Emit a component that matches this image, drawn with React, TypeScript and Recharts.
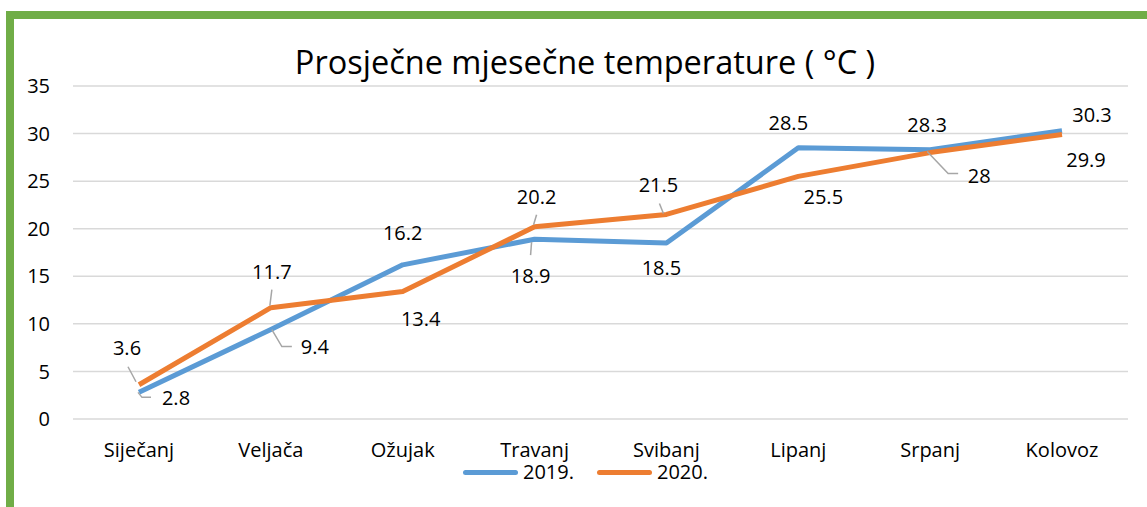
import { LineChart, Line, XAxis, YAxis, CartesianGrid, LabelList } from "recharts";

const months = ["Siječanj", "Veljača", "Ožujak", "Travanj", "Svibanj", "Lipanj", "Srpanj", "Kolovoz"];
const temps2019 = [2.8, 9.4, 16.2, 18.9, 18.5, 28.5, 28.3, 30.3];
const temps2020 = [3.6, 11.7, 13.4, 20.2, 21.5, 25.5, 28, 29.9];
const yTicks = [0, 5, 10, 15, 20, 25, 30, 35];

const BLUE = "#5B9BD5";
const ORANGE = "#ED7D31";
const FONT = "'Open Sans', sans-serif";

const data = months.map((m, i) => ({ month: m, y2019: temps2019[i], y2020: temps2020[i] }));

// label placement relative to the point (Excel moved some of them by hand)
type Place = { dx: number; dy: number; leader?: number[][] };
const place2019: Place[] = [
  { dx: 37, dy: 6, leader: [[-1, 0], [3, 5], [12, 5]] },
  { dx: 44, dy: 17, leader: [[1, 0], [11, 17], [21, 17]] },
  { dx: 0, dy: -32 },
  { dx: -4, dy: 37, leader: [[-3, 3], [-4, 16]] },
  { dx: -5, dy: 25 },
  { dx: -10, dy: -25 },
  { dx: -3, dy: -25 },
  { dx: 30, dy: -16 },
];
const place2020: Place[] = [
  { dx: -12, dy: -37, leader: [[-11, -18], [-3, -3]] },
  { dx: 1, dy: -36, leader: [[1, -18], [-1, -2]] },
  { dx: 18, dy: 27 },
  { dx: 2, dy: -30, leader: [[2, -12], [-1, -2]] },
  { dx: -8, dy: -29, leader: [[-7, -11], [-3, -1]] },
  { dx: 25, dy: 21 },
  { dx: 49, dy: 23, leader: [[-3, -1], [18, 21], [28, 21]] },
  { dx: 24, dy: 25 },
];

const makeLabel = (places: Place[]) => (props: any) => {
  const { x, y, value, index } = props;
  const p = places[index];
  if (!p) return null;
  return (
    <g key={`lbl-${index}`}>
      {p.leader && (
        <polyline
          points={p.leader.map(([a, b]) => `${x + a},${y + b}`).join(" ")}
          fill="none"
          stroke="#A6A6A6"
          strokeWidth={1.5}
        />
      )}
      <text
        x={x + p.dx}
        y={y + p.dy + 7}
        textAnchor="middle"
        fontSize={20}
        fontFamily={FONT}
        fill="#000"
      >
        {value}
      </text>
    </g>
  );
};

function LegendItem({ color, label, left }: { color: string; label: string; left: number }) {
  return (
    <div style={{ position: "absolute", left, top: 458, display: "flex", alignItems: "center" }}>
      <div style={{ width: 55, height: 5, borderRadius: 3, background: color, marginRight: 5 }} />
      <span style={{ fontFamily: FONT, fontSize: 20, color: "#000", lineHeight: "28px" }}>{label}</span>
    </div>
  );
}

export default function App() {
  return (
    <div style={{ position: "absolute", left: 0, top: 0, width: 1147, height: 507, overflow: "hidden", background: "#fff" }}>
      <div
        style={{
          position: "absolute",
          left: 6,
          top: 11,
          width: 1170,
          height: 530,
          border: "8px solid #70AD47",
          boxSizing: "border-box",
        }}
      />
      <div
        style={{
          position: "absolute",
          left: 0,
          width: 1170,
          top: 39,
          textAlign: "center",
          fontFamily: FONT,
          fontSize: 32.5,
          lineHeight: "46px",
          color: "#000",
        }}
      >
        Prosječne mjesečne temperature ( °C )
      </div>
      <div style={{ position: "absolute", left: 0, top: 0 }}>
        <LineChart width={1147} height={507} data={data} margin={{ top: 86, right: 19, left: 0, bottom: 0 }}>
          <CartesianGrid vertical={false} stroke="#D9D9D9" strokeWidth={1.5} />
          <XAxis
            dataKey="month"
            axisLine={false}
            tickLine={false}
            tickSize={0}
            tickMargin={24}
            height={88}
            padding={{ left: 66, right: 66 }}
            tick={{ fontSize: 20, fontFamily: FONT, fill: "#000" }}
            interval={0}
          />
          <YAxis
            domain={[0, 35]}
            ticks={yTicks}
            axisLine={false}
            tickLine={false}
            tickSize={0}
            tickMargin={23}
            width={73}
            tick={{ fontSize: 20, fontFamily: FONT, fill: "#000" }}
          />
          <Line
            dataKey="y2019"
            name="2019."
            stroke={BLUE}
            strokeWidth={5}
            strokeLinejoin="round"
            dot={false}
            activeDot={false}
            isAnimationActive={false}
          >
            <LabelList dataKey="y2019" content={makeLabel(place2019)} />
          </Line>
          <Line
            dataKey="y2020"
            name="2020."
            stroke={ORANGE}
            strokeWidth={5}
            strokeLinejoin="round"
            dot={false}
            activeDot={false}
            isAnimationActive={false}
          >
            <LabelList dataKey="y2020" content={makeLabel(place2020)} />
          </Line>
        </LineChart>
      </div>
      <LegendItem color={BLUE} label="2019." left={463} />
      <LegendItem color={ORANGE} label="2020." left={597} />
    </div>
  );
}
